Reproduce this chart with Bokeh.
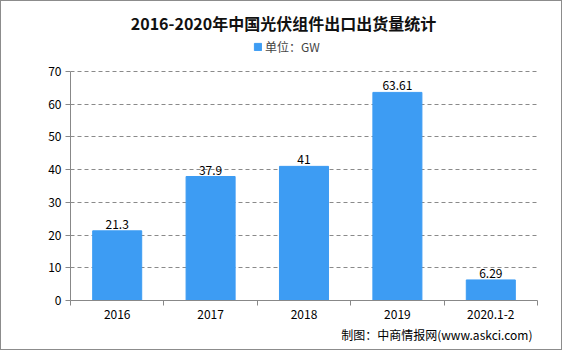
from bokeh.plotting import figure
from bokeh.models import Range1d, FixedTicker, Label, LabelSet, ColumnDataSource, Title
from bokeh.core.properties import value
from bokeh.embed import file_html
from bokeh.resources import INLINE

categories = ["2016", "2017", "2018", "2019", "2020.1-2"]
values = [21.3, 37.9, 41, 63.61, 6.29]
value_labels = ["21.3", "37.9", "41", "63.61", "6.29"]
y_ticks = [0, 10, 20, 30, 40, 50, 60, 70]
title_text = "2016-2020年中国光伏组件出口出货量统计"
legend_text = "单位：GW"
source_text = "制图：中商情报网(www.askci.com)"

BAR = "#3D9CF3"
FONT = "Noto Sans CJK SC"

# frame extends to top of canvas so title/legend can live inside it
FRAME_BOTTOM = 299
AXIS_TOP = 70
Y_MAX = 70 * FRAME_BOTTOM / (FRAME_BOTTOM - AXIS_TOP)

xs = [i + 0.5 for i in range(len(categories))]
src = ColumnDataSource(dict(x=xs, v=values, lab=value_labels))

p = figure(width=562, height=350, output_backend="svg", toolbar_location=None, title=None,
           x_range=Range1d(0, len(categories)), y_range=Range1d(0, Y_MAX),
           min_border_left=69, min_border_right=26, min_border_top=0, min_border_bottom=51)
p.styles = {"border": "1px solid #8c8c8c"}
p.outline_line_color = None
p.background_fill_color = "white"
p.border_fill_color = "white"

r = p.vbar(x="x", top="v", width=0.525, color=BAR, source=src, legend_label=legend_text)

labels = LabelSet(x="x", y="v", text="lab", source=src, text_align="center",
                  text_baseline="bottom", y_offset=2, text_font=value(FONT),
                  text_font_size="12px", text_color="black")
p.add_layout(labels)

# y axis
p.yaxis.ticker = FixedTicker(ticks=y_ticks)
p.yaxis.bounds = (0, 70)
p.yaxis.axis_line_color = "#888888"
p.yaxis.major_tick_line_color = "#888888"
p.yaxis.major_tick_in = 0
p.yaxis.major_tick_out = 5
p.yaxis.minor_tick_line_color = None
p.yaxis.major_label_standoff = 4
p.yaxis.major_label_text_font = FONT
p.yaxis.major_label_text_font_size = "12px"
p.yaxis.major_label_text_color = "black"

# x axis: ticks at category boundaries, labels at centers
p.xaxis.ticker = FixedTicker(ticks=xs, minor_ticks=list(range(len(categories) + 1)))
p.xaxis.major_label_overrides = {x: c for x, c in zip(xs, categories)}
p.xaxis.axis_line_color = "#888888"
p.xaxis.major_tick_line_color = None
p.xaxis.minor_tick_line_color = "#888888"
p.xaxis.minor_tick_in = 0
p.xaxis.minor_tick_out = 5
p.xaxis.major_label_standoff = 3
p.xaxis.major_label_text_font = FONT
p.xaxis.major_label_text_font_size = "12px"
p.xaxis.major_label_text_color = "black"

p.xgrid.grid_line_color = None
p.ygrid.grid_line_color = "#8a8a8a"
p.ygrid.grid_line_dash = "4 3"
p.ygrid.grid_line_width = 1

# legend
lg = p.legend[0]
lg.orientation = "horizontal"
lg.location = (183, 245)
lg.border_line_color = None
lg.background_fill_alpha = 0
lg.label_text_font = FONT
lg.label_text_font_size = "12px"
lg.glyph_width = 9
lg.glyph_height = 9
lg.label_standoff = 3
lg.padding = 0
lg.margin = 0

# title (inside the extended frame)
p.add_layout(Label(x=213, y=278, x_units="screen", y_units="screen", text=title_text,
                   text_font=FONT, text_font_size="16px", text_font_style="bold",
                   text_align="center", text_baseline="middle", text_color="#111111"))

# source note below the axis
p.add_layout(Title(text=source_text, align="right", offset=5, standoff=5,
                   text_font=FONT, text_font_size="12px", text_font_style="normal",
                   text_color="black"), "below")

open("out.html", "w").write(file_html(p, INLINE))
